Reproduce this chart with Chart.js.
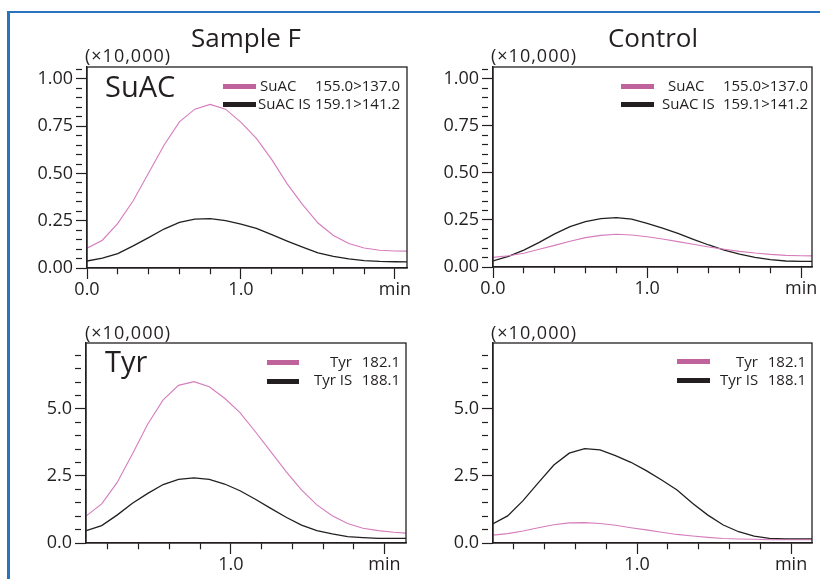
<!DOCTYPE html>
<html><head><meta charset="utf-8">
<script src="https://cdn.jsdelivr.net/npm/chart.js@4/dist/chart.umd.min.js"></script>
<style>
html,body{margin:0;padding:0;background:#fff;}
body{width:820px;height:579px;position:relative;overflow:hidden;font-family:'Open Sans',sans-serif;color:#231f20;}
canvas{position:absolute;}
.t{position:absolute;white-space:pre;line-height:1;z-index:2;color:#231f20;}
.title{font-size:26px;width:200px;text-align:center;}
.mult{font-size:18px;letter-spacing:1px;}
.comp{font-size:29px;}
.leg{font-size:15px;}
.num{font-size:15px;text-align:right;width:120px;}
.sw{position:absolute;height:5px;z-index:2;}
.blue{position:absolute;background:#2a74bf;}
</style></head><body>
<div class="blue" style="left:7px;top:11px;width:3px;height:570px;"></div>
<div class="blue" style="left:7px;top:11px;width:813px;height:2px;"></div>

<canvas id="c1"></canvas>
<canvas id="c2"></canvas>
<canvas id="c3"></canvas>
<canvas id="c4"></canvas>

<div class="t title" style="left:146px;top:24px;">Sample F</div>
<div class="t title" style="left:553px;top:24px;">Control</div>
<div class="t mult" style="left:85px;top:46px;">(×10,000)</div>
<div class="t mult" style="left:491px;top:46px;">(×10,000)</div>
<div class="t mult" style="left:85px;top:323px;">(×10,000)</div>
<div class="t mult" style="left:491px;top:323px;">(×10,000)</div>
<div class="t comp" style="left:105px;top:71px;">SuAC</div>
<div class="t comp" style="left:105px;top:346px;">Tyr</div>

<!-- Sample F SuAC legend -->
<div class="sw" style="left:223px;top:84px;width:33px;background:#c0629c;"></div>
<div class="sw" style="left:223px;top:102px;width:33px;background:#231f20;"></div>
<div class="t leg" style="left:260px;top:78px;">SuAC</div>
<div class="t num" style="left:280px;top:78px;">155.0&gt;137.0</div>
<div class="t leg" style="left:258px;top:96px;">SuAC IS</div>
<div class="t num" style="left:280px;top:96px;">159.1&gt;141.2</div>

<!-- Control SuAC legend -->
<div class="sw" style="left:621px;top:84px;width:33px;background:#c0629c;"></div>
<div class="sw" style="left:621px;top:102px;width:33px;background:#231f20;"></div>
<div class="t leg" style="left:668px;top:78px;">SuAC</div>
<div class="t num" style="left:688px;top:78px;">155.0&gt;137.0</div>
<div class="t leg" style="left:662px;top:96px;">SuAC IS</div>
<div class="t num" style="left:688px;top:96px;">159.1&gt;141.2</div>

<!-- Sample F Tyr legend -->
<div class="sw" style="left:267px;top:360px;width:32px;background:#c0629c;"></div>
<div class="sw" style="left:267px;top:379px;width:32px;background:#231f20;"></div>
<div class="t leg" style="left:330px;top:354px;">Tyr</div>
<div class="t num" style="left:280px;top:354px;">182.1</div>
<div class="t leg" style="left:314px;top:372px;">Tyr IS</div>
<div class="t num" style="left:280px;top:372px;">188.1</div>

<!-- Control Tyr legend -->
<div class="sw" style="left:677px;top:359px;width:33px;background:#c0629c;"></div>
<div class="sw" style="left:677px;top:378px;width:33px;background:#231f20;"></div>
<div class="t leg" style="left:736px;top:354px;">Tyr</div>
<div class="t num" style="left:686px;top:354px;">182.1</div>
<div class="t leg" style="left:720px;top:372px;">Tyr IS</div>
<div class="t num" style="left:686px;top:372px;">188.1</div>

<script>
// ---- data (retention time in min, intensity in ×10,000) ----
const timeTop = [0.0,0.1,0.2,0.3,0.4,0.5,0.6,0.7,0.8,0.9,1.0,1.1,1.2,1.3,1.4,1.5,1.6,1.7,1.8,1.9,2.0,2.08];
const suacSampleF   = [0.105,0.147,0.236,0.356,0.502,0.649,0.773,0.840,0.865,0.840,0.770,0.685,0.573,0.445,0.335,0.238,0.172,0.129,0.106,0.094,0.090,0.089];
const suacISSampleF = [0.037,0.052,0.076,0.117,0.161,0.206,0.241,0.259,0.261,0.250,0.232,0.209,0.176,0.142,0.110,0.080,0.062,0.048,0.039,0.035,0.033,0.032];
const suacControl   = [0.051,0.060,0.073,0.094,0.115,0.137,0.156,0.168,0.174,0.170,0.161,0.149,0.135,0.121,0.106,0.094,0.083,0.074,0.067,0.062,0.060,0.059];
const suacISControl = [0.032,0.057,0.090,0.131,0.176,0.215,0.241,0.257,0.262,0.254,0.232,0.207,0.179,0.147,0.117,0.090,0.069,0.051,0.039,0.032,0.030,0.030];

const timeBottom = [0.06,0.16,0.26,0.36,0.46,0.56,0.66,0.76,0.86,0.96,1.06,1.16,1.26,1.36,1.46,1.56,1.66,1.76,1.86,1.96,2.06,2.14];
const tyrSampleF   = [1.01,1.46,2.25,3.32,4.44,5.34,5.88,6.02,5.83,5.40,4.86,4.15,3.41,2.66,1.98,1.42,1.02,0.73,0.55,0.46,0.40,0.37];
const tyrISSampleF = [0.46,0.65,1.04,1.48,1.85,2.18,2.37,2.43,2.37,2.20,1.95,1.63,1.29,0.96,0.67,0.46,0.34,0.24,0.20,0.17,0.17,0.17];
const tyrControl   = [0.29,0.35,0.45,0.57,0.68,0.75,0.76,0.73,0.66,0.57,0.49,0.40,0.32,0.26,0.21,0.17,0.15,0.14,0.12,0.12,0.12,0.12];
const tyrISControl = [0.70,1.01,1.58,2.25,2.91,3.35,3.52,3.47,3.26,3.01,2.70,2.35,1.98,1.48,1.04,0.67,0.42,0.26,0.17,0.15,0.15,0.15];

const xTickLabels = {0: '0.0', 1: '1.0', 2: 'min'};

const INK = '#231f20';
const PINK = '#d67cbd';
const FONT = "'Open Sans', sans-serif";

function isMult(v, m) { return Math.abs(v / m - Math.round(v / m)) < 1e-6; }
function pts(xs, ys) { return xs.map((x, i) => ({x: x, y: ys[i]})); }

const boxPlugin = {
  id: 'box',
  afterDraw(chart) {
    const {ctx, chartArea: a} = chart;
    ctx.save();
    ctx.strokeStyle = INK;
    ctx.lineWidth = 1.3;
    ctx.strokeRect(a.left, a.top, a.right - a.left, a.bottom - a.top);
    ctx.restore();
  }
};

function makeChart(id, geo, times, pinkVals, blackVals, xr, yr) {
  const cv = document.getElementById(id);
  cv.width = geo.W; cv.height = geo.H;
  cv.style.left = geo.L + 'px'; cv.style.top = geo.T + 'px';
  cv.style.width = geo.W + 'px'; cv.style.height = geo.H + 'px';
  const yW = geo.aL - geo.L, padR = geo.L + geo.W - geo.aR, padT = geo.aT - geo.T, xH = geo.T + geo.H - geo.aB;
  return new Chart(cv, {
    type: 'line',
    data: {
      datasets: [
        {data: pts(times, pinkVals), borderColor: PINK, borderWidth: 1.1, pointRadius: 0, tension: 0, fill: false},
        {data: pts(times, blackVals), borderColor: INK, borderWidth: 1.3, pointRadius: 0, tension: 0, fill: false}
      ]
    },
    options: {
      responsive: false, animation: false, devicePixelRatio: 1,
      layout: {padding: {left: 0, top: padT, right: padR, bottom: 0}},
      plugins: {legend: {display: false}, tooltip: {enabled: false}},
      scales: {
        x: {
          type: 'linear', min: xr[0], max: xr[1],
          afterFit: s => { s.height = xH; },
          border: {display: true, color: INK, width: 1.3},
          grid: {
            drawOnChartArea: false, drawTicks: true, tickLength: 11, tickColor: INK, tickWidth: 1.2,
            tickBorderDash: ctx => (ctx.tick && isMult(ctx.tick.value, 1)) ? [] : [6, 60]
          },
          ticks: {
            stepSize: 0.2, includeBounds: false, autoSkip: false, maxRotation: 0, maxTicksLimit: 500,
            padding: 0, color: INK, font: {family: FONT, size: 18},
            callback: v => { for (const k in xTickLabels) { if (Math.abs(v - k) < 1e-6) return xTickLabels[k]; } return ''; }
          }
        },
        y: {
          type: 'linear', min: 0, max: yr.max,
          afterFit: s => { s.width = yW; },
          border: {display: true, color: INK, width: 1.3},
          grid: {
            drawOnChartArea: false, drawTicks: true, tickLength: 11, tickColor: INK, tickWidth: 1.2,
            tickBorderDash: ctx => (ctx.tick && isMult(ctx.tick.value, yr.major)) ? [] : [6, 60]
          },
          ticks: {
            stepSize: yr.minor, includeBounds: false, autoSkip: false, maxTicksLimit: 500,
            padding: 3, color: INK, font: {family: FONT, size: 18},
            callback: v => isMult(v, yr.major) ? v.toFixed(yr.dec) : ''
          }
        }
      }
    },
    plugins: [boxPlugin]
  });
}

const topY = {max: 1.063, minor: 0.05, major: 0.25, dec: 2};
const botY = {max: 7.46, minor: 0.5, major: 2.5, dec: 1};

makeChart('c1', {L: 0, T: 52, W: 420, H: 258, aL: 87, aR: 407, aT: 67, aB: 268}, timeTop, suacSampleF, suacISSampleF, [0, 2.078], topY);
makeChart('c2', {L: 420, T: 52, W: 400, H: 258, aL: 493, aR: 812, aT: 67, aB: 267}, timeTop, suacControl, suacISControl, [0, 2.07], topY);
makeChart('c3', {L: 0, T: 328, W: 420, H: 251, aL: 86, aR: 406, aT: 343, aB: 543}, timeBottom, tyrSampleF, tyrISSampleF, [0.058, 2.14], botY);
makeChart('c4', {L: 420, T: 328, W: 400, H: 251, aL: 493, aR: 812, aT: 343, aB: 543}, timeBottom, tyrControl, tyrISControl, [0.065, 2.136], botY);
</script>
</body></html>
